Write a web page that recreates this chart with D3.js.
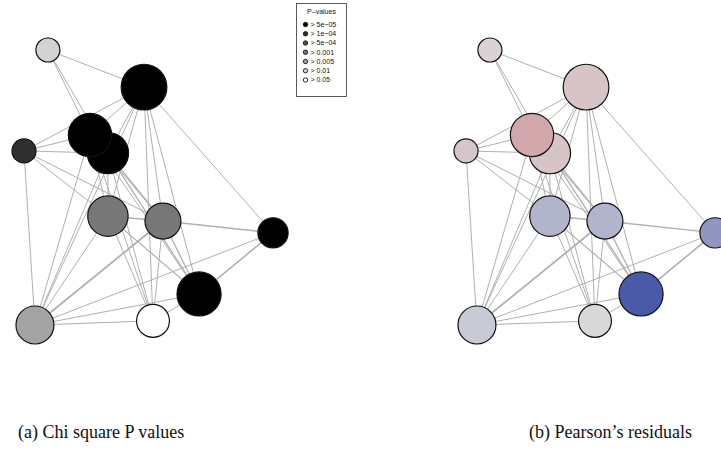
<!DOCTYPE html>
<meta charset="utf-8">
<style>
body { margin: 0; background: #fff; }
.links line { stroke: #b0b0b0; }
.nodes circle { stroke: #111; stroke-width: 1.2px; }
.caption { font-family: "Liberation Serif", serif; font-size: 18px; fill: #111; }
.legend text { font-family: "Liberation Sans", Arial, sans-serif; font-size: 7px; fill: #111; }
</style>
<svg width="721" height="454"></svg>
<script src="https://d3js.org/d3.v7.min.js"></script>
<script>

// node layout (normalised coordinates), size and statistics
var nodeIds   = ["A", "B", "C", "D", "E", "F", "G", "H", "I", "J", "K"];
var layoutX   = [0.096, 0.482, 0.265, 0.337, 0.000, 0.337, 0.558, 1.000, 0.703, 0.044, 0.518];
var layoutY   = [0.000, 0.135, 0.309, 0.375, 0.367, 0.604, 0.622, 0.665, 0.887, 1.000, 0.985];
var nodeSize  = [0.24, 0.87, 0.78, 0.71, 0.24, 0.68, 0.54, 0.38, 0.81, 0.60, 0.45];
var pLevel    = [5, 0, 0, 0, 1, 3, 3, 0, 0, 4, 6];
var residual  = [0.25, 0.6, 1.35, 0.6, 0.55, -1.5, -1.5, -2.65, -5, -0.7, -0.12];

// edges as [source, target, weight]
var edges = [
  ["A","B",1], ["A","C",1], ["A","D",1],
  ["B","C",1], ["B","D",1], ["B","E",1], ["B","F",1], ["B","G",1], ["B","H",1], ["B","I",1], ["B","J",1], ["B","K",1],
  ["C","E",1], ["C","F",1], ["C","G",1], ["C","I",1], ["C","J",1], ["C","K",1],
  ["D","E",1], ["D","F",1], ["D","G",1.4], ["D","I",1.3], ["D","J",1], ["D","K",1],
  ["E","F",1], ["E","G",1], ["E","J",1],
  ["F","G",1.5], ["F","I",1.2], ["F","J",1], ["F","K",1],
  ["G","H",1.5], ["G","I",1.3], ["G","J",1.8], ["G","K",1],
  ["H","I",1.6], ["H","J",1],
  ["I","J",1], ["I","K",1],
  ["J","K",1]
];

var pLabels = ["> 5e\u221205", "> 1e\u221204", "> 5e\u221204", "> 0.001", "> 0.005", "> 0.01", "> 0.05"];
var pColors = ["#000000", "#2f2f2f", "#555555", "#777777", "#a3a3a3", "#d3d3d3", "#ffffff"];

var captions = ["(a) Chi square P values", "(b) Pearson\u2019s residuals"];

var svg = d3.select("svg");

var nodes = nodeIds.map(function(id, i) {
  return { id: id, lx: layoutX[i], ly: layoutY[i], size: nodeSize[i], p: pLevel[i], res: residual[i] };
});
var byId = {};
nodes.forEach(function(d) { byId[d.id] = d; });

var y = d3.scaleLinear().domain([0, 1]).range([50, 325]);
var r = d3.scaleSqrt().domain([0, 1]).range([0, 24.5]);

var resColor = d3.scaleLinear()
    .domain([-5, 0, 5])
    .range(["#4b5aa8", "#dcdcdc", "#b2182b"]);

function drawPanel(offset, fill) {
  var x = d3.scaleLinear().domain([0, 1]).range([24 + offset, 273 + offset]);
  var g = svg.append("g");

  g.append("g")
      .attr("class", "links")
    .selectAll("line")
    .data(edges)
    .enter().append("line")
      .attr("x1", function(d) { return x(byId[d[0]].lx); })
      .attr("y1", function(d) { return y(byId[d[0]].ly); })
      .attr("x2", function(d) { return x(byId[d[1]].lx); })
      .attr("y2", function(d) { return y(byId[d[1]].ly); })
      .attr("stroke-width", function(d) { return d[2]; });

  // draw D before C so C sits on top
  var order = ["A", "B", "D", "C", "E", "F", "G", "H", "I", "J", "K"];
  g.append("g")
      .attr("class", "nodes")
    .selectAll("circle")
    .data(order.map(function(id) { return byId[id]; }))
    .enter().append("circle")
      .attr("cx", function(d) { return x(d.lx); })
      .attr("cy", function(d) { return y(d.ly); })
      .attr("r", function(d) { return r(d.size); })
      .attr("fill", fill);
}

drawPanel(0, function(d) { return pColors[d.p]; });
drawPanel(442, function(d) { return resColor(d.res); });

// legend for P-values
var legend = svg.append("g").attr("class", "legend");
legend.append("rect")
    .attr("x", 296.5).attr("y", 3.5)
    .attr("width", 50).attr("height", 93)
    .attr("fill", "#fff").attr("stroke", "#333").attr("stroke-width", 0.8);
legend.append("text")
    .attr("x", 321.5).attr("y", 13.5)
    .attr("text-anchor", "middle")
    .text("P\u2013values");

var ly = d3.scaleLinear().domain([0, 6]).range([24.5, 80]);
var item = legend.selectAll(".item")
    .data(pLabels)
    .enter().append("g")
      .attr("class", "item")
      .attr("transform", function(d, i) { return "translate(305.5," + ly(i) + ")"; });
item.append("circle")
    .attr("r", 2.2)
    .attr("fill", function(d, i) { return pColors[i]; })
    .attr("stroke", "#111").attr("stroke-width", 0.9);
item.append("text")
    .attr("x", 5).attr("y", 2.4)
    .text(function(d) { return d; });

// captions
svg.selectAll(".caption")
    .data(captions)
    .enter().append("text")
      .attr("class", "caption")
      .attr("x", function(d, i) { return i === 0 ? 18 : 692; })
      .attr("y", 438)
      .attr("text-anchor", function(d, i) { return i === 0 ? "start" : "end"; })
      .text(function(d) { return d; });

</script>
